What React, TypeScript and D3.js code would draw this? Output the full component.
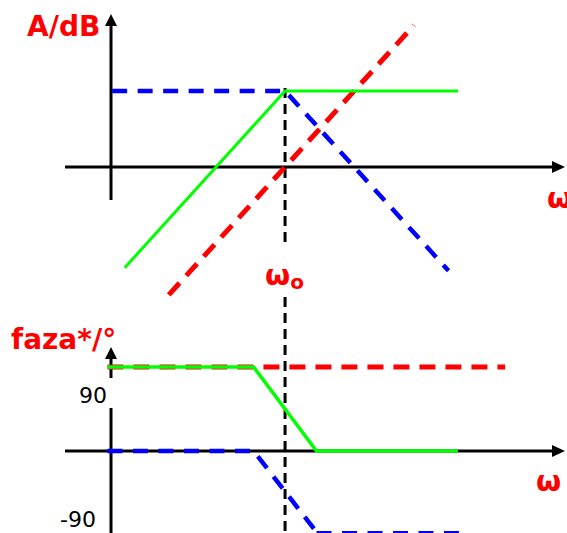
import React from 'react';
import * as d3 from 'd3';

const W = 567;
const H = 533;

// x: log-frequency units, 0 = ω0
const magGreen: [number, number][] = [[-5.1, -5.3], [0, 4], [5.5, 4]];
const magBlue: [number, number][] = [[-5.5, 4], [0, 4], [5.2, -5.46]];
const magRed: [number, number][] = [[-3.7, -6.73], [4.1, 7.46]];
const phaseRed: [number, number][] = [[-5.65, 90], [7, 90]];
const phaseGreen: [number, number][] = [[-5.65, 90], [-1, 90], [1, 0], [5.5, 0]];
const phaseBlueA: [number, number][] = [[-5.65, 0], [-1, 0], [1, -90]];
const phaseBlueB: [number, number][] = [[1, -90], [5.6, -90]];
const phaseTicks = [90, -90];

const RED = '#ff0000';
const BLUE = '#0000ff';
const GREEN = '#00ff00';
const FONT = '"DejaVu Sans", Verdana, sans-serif';

export default function App() {
  const x = d3.scaleLinear().domain([-7, 9]).range([65, 568]);
  const yM = d3.scaleLinear().domain([0, 4]).range([167, 91]);
  const yP = d3.scaleLinear().domain([-90, 0, 90]).range([532, 451, 367]);

  const lineM = d3.line<[number, number]>().x(d => x(d[0])).y(d => yM(d[1]));
  const lineP = d3.line<[number, number]>().x(d => x(d[0])).y(d => yP(d[1]));

  const x0 = x(0);
  const yAx = 111;
  const xLeft = 65;
  const xTip = 565;

  const arrowRight = (y: number) => `M${xTip},${y} L${xTip - 13},${y - 6} L${xTip - 13},${y + 6} Z`;
  const arrowUp = (tipY: number) => `M${yAx},${tipY} L${yAx - 6},${tipY + 12} L${yAx + 6},${tipY + 12} Z`;

  return (
    <svg width={W} height={H} style={{ position: 'absolute', left: 0, top: 0, background: '#fff' }}>
      {/* top chart axes */}
      <line x1={xLeft} x2={xTip - 10} y1={yM(0)} y2={yM(0)} stroke="#000" strokeWidth={3} />
      <path d={arrowRight(yM(0))} fill="#000" />
      <line x1={yAx} x2={yAx} y1={24} y2={200} stroke="#000" strokeWidth={3} />
      <path d={arrowUp(14)} fill="#000" />

      {/* bottom chart axes */}
      <line x1={xLeft} x2={xTip - 10} y1={yP(0)} y2={yP(0)} stroke="#000" strokeWidth={3} />
      <path d={arrowRight(yP(0))} fill="#000" />
      <line x1={yAx} x2={yAx} y1={356} y2={378} stroke="#000" strokeWidth={3} />
      <line x1={yAx} x2={yAx} y1={408} y2={H} stroke="#000" strokeWidth={3} />
      <path d={arrowUp(347)} fill="#000" />

      {/* omega0 dashed vertical */}
      <line x1={x0} x2={x0} y1={88} y2={245} stroke="#000" strokeWidth={3} strokeDasharray="10,6" />
      <line x1={x0} x2={x0} y1={297} y2={H} stroke="#000" strokeWidth={3} strokeDasharray="10,6" />

      {/* magnitude */}
      <path d={lineM(magRed)!} fill="none" stroke={RED} strokeWidth={5} strokeDasharray="16,10" />
      <path d={lineM(magBlue)!} fill="none" stroke={BLUE} strokeWidth={4.5} strokeDasharray="15,10.5" />
      <path d={lineM(magGreen)!} fill="none" stroke={GREEN} strokeWidth={3} />

      {/* phase */}
      <path d={lineP(phaseRed)!} fill="none" stroke={RED} strokeWidth={5} strokeDasharray="16,10" />
      <path d={lineP(phaseBlueA)!} fill="none" stroke={BLUE} strokeWidth={4.5} strokeDasharray="15,10.5" />
      <path d={lineP(phaseBlueB)!} fill="none" stroke={BLUE} strokeWidth={2} strokeDasharray="15,10.5" />
      <path d={lineP(phaseGreen)!} fill="none" stroke={GREEN} strokeWidth={3.5} />

      {/* labels */}
      <text x={27} y={36} fill={RED} fontFamily={FONT} fontWeight="bold" fontSize={28}>A/dB</text>
      <text x={11} y={349} fill={RED} fontFamily={FONT} fontWeight="bold" fontSize={28}>faza*/°</text>
      <text x={265} y={285} fill={RED} fontFamily={FONT} fontWeight="bold" fontSize={29}>
        ω<tspan fontSize={20} dy={4}>o</tspan>
      </text>
      <text x={547} y={208} fill={RED} fontFamily={FONT} fontWeight="bold" fontSize={29}>ω</text>
      <text x={536} y={491} fill={RED} fontFamily={FONT} fontWeight="bold" fontSize={29}>ω</text>
      {phaseTicks.map((t, i) => (
        <text key={t} x={i === 0 ? 107 : 96} y={i === 0 ? 403 : 527} textAnchor="end" fill="#000" fontFamily={FONT} fontSize={22}>
          {t}
        </text>
      ))}
    </svg>
  );
}
